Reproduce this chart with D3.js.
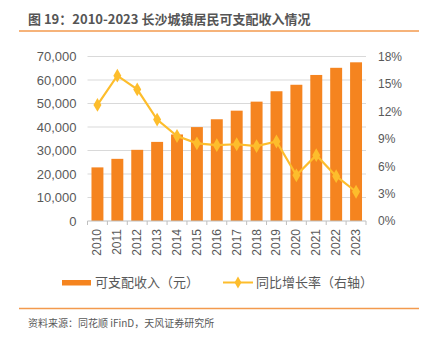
<!DOCTYPE html>
<html><head><meta charset="utf-8">
<script src="https://cdn.jsdelivr.net/npm/d3@7"></script>
<style>body{margin:0;background:#fff}svg{display:block;font-family:"Noto Sans CJK SC","Liberation Sans",Arial,sans-serif}</style>
</head><body>
<svg id="c" width="421" height="338"></svg>
<script>
const years = ["2010","2011","2012","2013","2014","2015","2016","2017","2018","2019","2020","2021","2022","2023"];
const income = [22814,26451,30288,33662,36826,39961,43294,46948,50792,55211,57971,62145,65190,67529];
const growth = [12.7,15.9,14.4,11.1,9.3,8.5,8.3,8.4,8.2,8.7,5.0,7.2,4.9,3.2];
const leftTicks = [0,10000,20000,30000,40000,50000,60000,70000];
const rightTicks = [0,3,6,9,12,15,18];
const title = "图 19：2010-2023 长沙城镇居民可支配收入情况";
const source = "资料来源：同花顺 iFinD，天风证券研究所";
const legendNames = ["可支配收入（元）","同比增长率（右轴）"];

const svg = d3.select("#c");
const L = 87.5, R = 366, T = 56.5, B = 221;
const x = d3.scaleBand().domain(years).range([L, R]).paddingInner(0.4).paddingOuter(0.2);
const yL = d3.scaleLinear().domain([0,70000]).range([B,T]);
const yR = d3.scaleLinear().domain([0,18]).range([B,T]);
const barColor = "#F5841F", lineColor = "#FDBD2C", txt = "#595959";

// title
svg.append("text").attr("x",28).attr("y",24).attr("font-size",13).attr("font-weight","bold").attr("fill","#555").text(title);
svg.append("line").attr("x1",19).attr("x2",419).attr("y1",31).attr("y2",31).attr("stroke","#F39A4E").attr("stroke-width",1.5);

// grid
svg.append("g").selectAll("line").data(leftTicks.slice(1)).join("line")
  .attr("x1",L).attr("x2",R).attr("y1",d=>yL(d)).attr("y2",d=>yL(d)).attr("stroke","#D9D9D9").attr("stroke-width",1);

// left axis
const gl = svg.append("g").attr("transform",`translate(${L},0)`)
  .call(d3.axisLeft(yL).tickValues(leftTicks).tickFormat(d3.format(",")).tickSize(0).tickPadding(11));
gl.select(".domain").remove();
gl.selectAll("text").attr("font-size",13).attr("fill",txt).attr("font-family","Liberation Sans, Arial, sans-serif");

// right axis
const gr = svg.append("g").attr("transform",`translate(${R},0)`)
  .call(d3.axisRight(yR).tickValues(rightTicks).tickFormat(d=>d+"%").tickSize(0).tickPadding(12));
gr.select(".domain").remove();
gr.selectAll("text").attr("font-size",12).attr("fill",txt).attr("font-family","Liberation Sans, Arial, sans-serif");

// bars
svg.append("g").selectAll("rect").data(years).join("rect")
  .attr("x",d=>x(d)).attr("width",x.bandwidth())
  .attr("y",(d,i)=>yL(income[i])).attr("height",(d,i)=>B-yL(income[i])).attr("fill",barColor);

// x axis
svg.append("line").attr("x1",L).attr("x2",R).attr("y1",B).attr("y2",B).attr("stroke","#BFBFBF");
const step = x.step();
svg.append("g").selectAll("line").data(d3.range(years.length+1)).join("line")
  .attr("x1",i=>L+i*(R-L)/years.length).attr("x2",i=>L+i*(R-L)/years.length)
  .attr("y1",B).attr("y2",B+4).attr("stroke","#BFBFBF");
svg.append("g").selectAll("text").data(years).join("text")
  .attr("transform",d=>`translate(${x(d)+x.bandwidth()/2+4},${229}) rotate(-90)`)
  .attr("text-anchor","end").attr("font-size",12).attr("fill",txt)
  .attr("font-family","Liberation Sans, Arial, sans-serif").text(d=>d);

// line
const line = d3.line().x((d,i)=>x(years[i])+x.bandwidth()/2).y(d=>yR(d));
svg.append("path").datum(growth).attr("d",line).attr("fill","none").attr("stroke",lineColor).attr("stroke-width",2.2);
svg.append("g").selectAll("path").data(growth).join("path")
  .attr("d",d3.symbol().type(d3.symbolDiamond).size(55))
  .attr("transform",(d,i)=>`translate(${x(years[i])+x.bandwidth()/2},${yR(d)})`).attr("fill",lineColor);

// legend
svg.append("rect").attr("x",62).attr("y",280).attr("width",29).attr("height",5.5).attr("fill",barColor);
svg.append("text").attr("x",95).attr("y",287).attr("font-size",13).attr("fill",txt).text(legendNames[0]);
svg.append("line").attr("x1",223).attr("x2",253).attr("y1",282.5).attr("y2",282.5).attr("stroke",lineColor).attr("stroke-width",2);
svg.append("path").attr("d",d3.symbol().type(d3.symbolDiamond).size(40)).attr("transform","translate(238,282.5)").attr("fill",lineColor);
svg.append("text").attr("x",256).attr("y",287).attr("font-size",13).attr("fill",txt).text(legendNames[1]);

// footer
svg.append("line").attr("x1",19).attr("x2",419).attr("y1",308.5).attr("y2",308.5).attr("stroke","#F39A4E").attr("stroke-width",1.5);
svg.append("text").attr("x",28).attr("y",327).attr("font-size",10).attr("fill",txt).text(source);
</script>
</body></html>
